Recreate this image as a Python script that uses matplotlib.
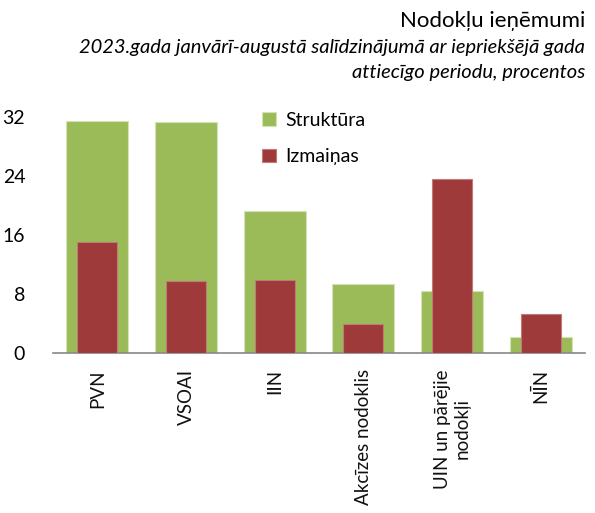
import numpy as np
import matplotlib.pyplot as plt

plt.rcParams['font.family'] = ['Lato', 'DejaVu Sans']

# nodokļu grupas un vērtības (%)
categories = ["PVN", "VSOAI", "IIN", "Akcīzes nodoklis", "UIN un pārējie\nnodokļi", "NĪN"]
struktura = [31.5, 31.3, 19.2, 9.3, 8.4, 2.2]
izmainas = [15.0, 9.8, 9.9, 3.95, 23.6, 5.3]
yticks = [0, 8, 16, 24, 32]

green = "#9bbb59"
red = "#9e3a3a"

fig = plt.figure(figsize=(5.95, 5.13), dpi=100)
ax = fig.add_axes([0.089, 0.312, 0.894, 0.46])

x = np.arange(len(categories))
ax.bar(x, struktura, width=0.70, color=green, edgecolor="#d4e3b5", linewidth=0.8, label="Struktūra", zorder=2)
ax.bar(x, izmainas, width=0.45, color=red, edgecolor="#c07a7a", linewidth=0.8, label="Izmaiņas", zorder=3)

ax.set_xlim(-0.5, len(categories) - 0.5)
ax.set_ylim(0, 32)
ax.set_yticks(yticks)
ax.set_yticklabels([str(v) for v in yticks], fontsize=14)
ax.tick_params(axis="y", length=0, pad=20)
ax.set_xticks(x)
ax.set_xticklabels([])
ax.tick_params(axis="x", length=0)

# kategoriju nosaukumi vertikāli zem ass
for i, lab in enumerate(categories):
    ax.text(i, -2.2, lab, rotation=90, ha="center", va="top", multialignment="center",
            fontsize=13.5, color="#111111")

for side in ["top", "right", "left"]:
    ax.spines[side].set_visible(False)
ax.spines["bottom"].set_color("#888888")
ax.spines["bottom"].set_linewidth(1.2)

ax.legend(loc="upper left", bbox_to_anchor=(0.36, 1.095), frameon=False, fontsize=14,
          handlelength=0.7, handleheight=0.7, handletextpad=0.5, labelspacing=1.0)

fig.text(0.983, 0.96, "Nodokļu ieņēmumi", ha="right", va="center", fontsize=16)
fig.text(0.983, 0.908, "2023.gada janvārī-augustā salīdzinājumā ar iepriekšējā gada",
         ha="right", va="center", fontsize=14.5, style="italic")
fig.text(0.983, 0.858, "attiecīgo periodu, procentos",
         ha="right", va="center", fontsize=14.5, style="italic")

fig.savefig("out.png", dpi=100)
